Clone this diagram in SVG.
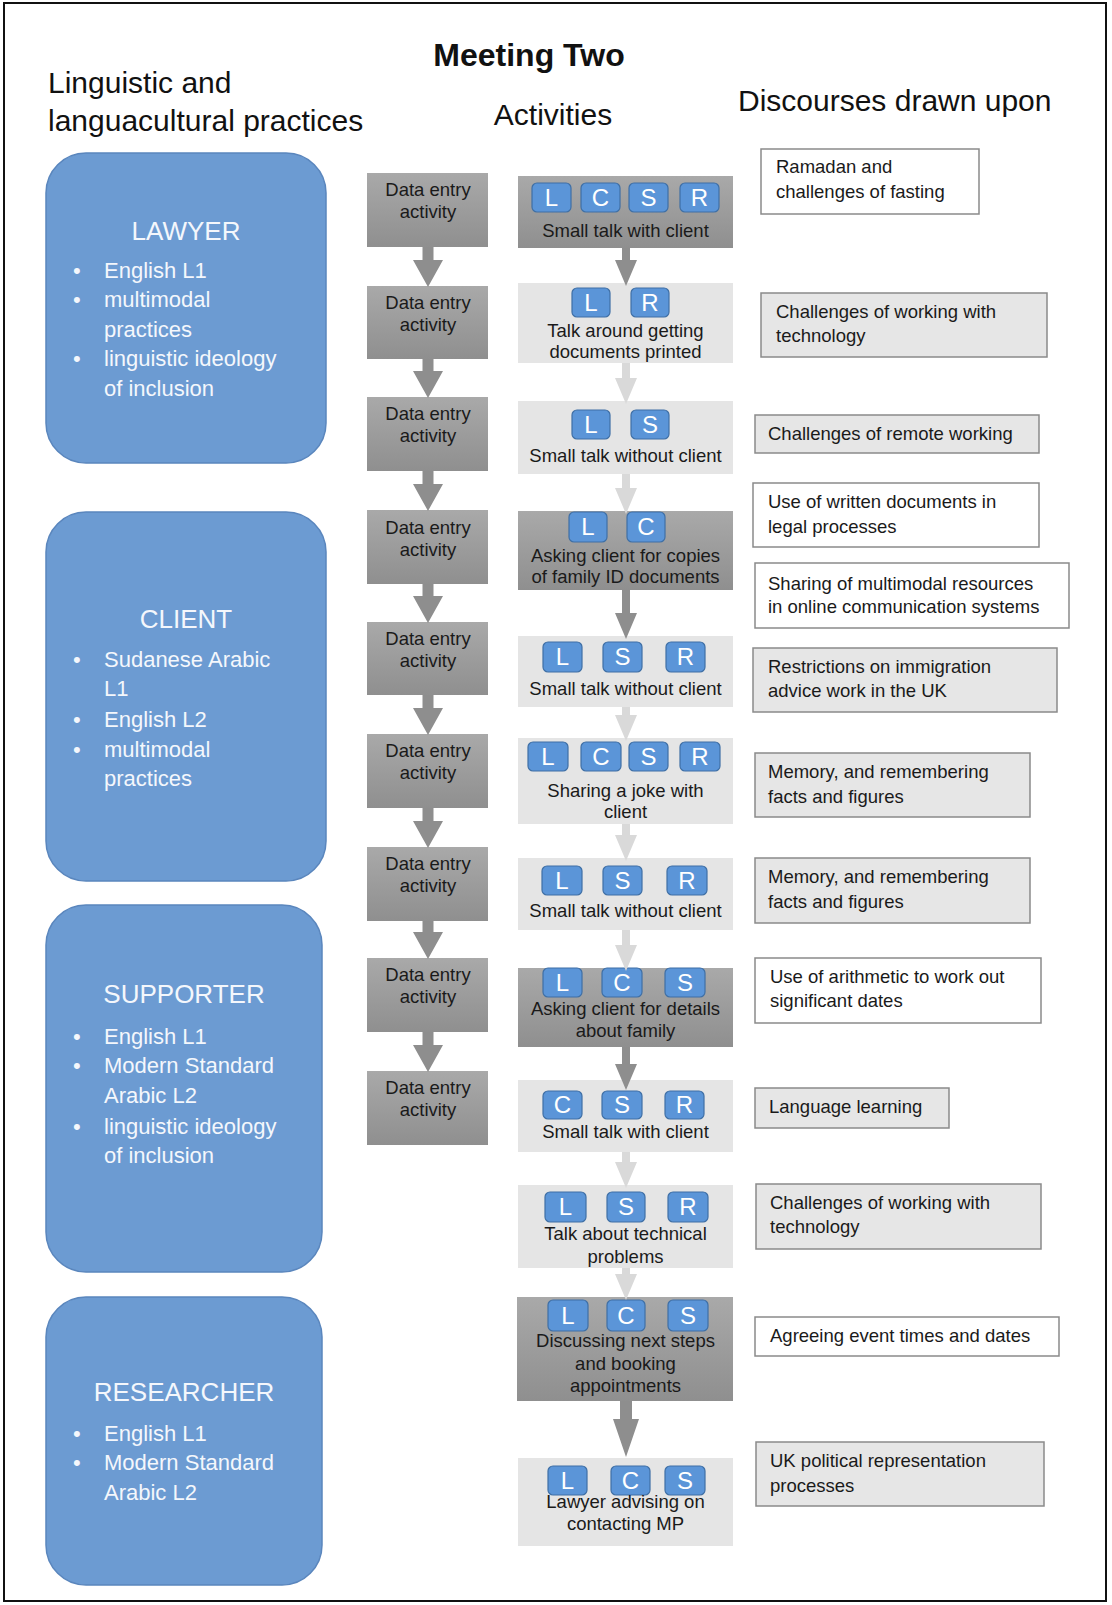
<svg xmlns="http://www.w3.org/2000/svg" width="1112" height="1605" viewBox="0 0 1112 1605">
<defs>
<linearGradient id="darkg" x1="0" y1="0" x2="0" y2="1">
<stop offset="0" stop-color="#a9a9a9"/>
<stop offset="1" stop-color="#8f8f8f"/>
</linearGradient>
</defs>
<style>
text{font-family:"Liberation Sans",Arial,sans-serif;}
.hdr{font-size:30px;fill:#111;}
.ttl{font-size:32px;font-weight:bold;fill:#111;}
.role{fill:#6c9bd2;stroke:#5a86bd;stroke-width:1.5;}
.rt{font-size:26px;fill:#f4f7fc;text-anchor:middle;}
.bt{font-size:22px;fill:#f4f7fc;}
.dark{fill:url(#darkg);}
.light{fill:#e5e5e5;}
.at{font-size:18.5px;fill:#1a1a1a;text-anchor:middle;}
.badge{fill:#5b95d8;stroke:#3f6fa5;stroke-width:1.2;}
.bl{font-size:24px;fill:#ffffff;text-anchor:middle;}
.dw{fill:#ffffff;stroke:#8a8a8a;stroke-width:1.5;}
.dg{fill:#e6e6e6;stroke:#8a8a8a;stroke-width:1.5;}
.dt{font-size:18.5px;fill:#1a1a1a;}
.ad{fill:#8e8e8e;}
.al{fill:#d9d9d9;}
</style>
<rect x="4" y="3" width="1102" height="1598" fill="#ffffff" stroke="#111" stroke-width="2"/>

<g id="headers">
<text class="ttl" x="529" y="66" text-anchor="middle">Meeting Two</text>
<text class="hdr" x="48" y="93">Linguistic and</text>
<text class="hdr" x="48" y="131">languacultural practices</text>
<text class="hdr" x="553" y="125" text-anchor="middle">Activities</text>
<text class="hdr" x="738" y="111">Discourses drawn upon</text>
</g>

<g id="role-lawyer">
<rect class="role" x="46" y="153" width="280" height="310" rx="40"/>
<text class="rt" x="186" y="240">LAWYER</text>
<text class="bt" x="73" y="278">•</text><text class="bt" x="104" y="278">English L1</text>
<text class="bt" x="73" y="307">•</text><text class="bt" x="104" y="307">multimodal</text>
<text class="bt" x="104" y="337">practices</text>
<text class="bt" x="73" y="366">•</text><text class="bt" x="104" y="366">linguistic ideology</text>
<text class="bt" x="104" y="396">of inclusion</text>
</g>
<g id="role-client">
<rect class="role" x="46" y="512" width="280" height="369" rx="40"/>
<text class="rt" x="186" y="628">CLIENT</text>
<text class="bt" x="73" y="667">•</text><text class="bt" x="104" y="667">Sudanese Arabic</text>
<text class="bt" x="104" y="696">L1</text>
<text class="bt" x="73" y="727">•</text><text class="bt" x="104" y="727">English L2</text>
<text class="bt" x="73" y="757">•</text><text class="bt" x="104" y="757">multimodal</text>
<text class="bt" x="104" y="786">practices</text>
</g>
<g id="role-supporter">
<rect class="role" x="46" y="905" width="276" height="367" rx="40"/>
<text class="rt" x="184" y="1003">SUPPORTER</text>
<text class="bt" x="73" y="1044">•</text><text class="bt" x="104" y="1044">English L1</text>
<text class="bt" x="73" y="1073">•</text><text class="bt" x="104" y="1073">Modern Standard</text>
<text class="bt" x="104" y="1103">Arabic L2</text>
<text class="bt" x="73" y="1134">•</text><text class="bt" x="104" y="1134">linguistic ideology</text>
<text class="bt" x="104" y="1163">of inclusion</text>
</g>
<g id="role-researcher">
<rect class="role" x="46" y="1297" width="276" height="288" rx="40"/>
<text class="rt" x="184" y="1401">RESEARCHER</text>
<text class="bt" x="73" y="1441">•</text><text class="bt" x="104" y="1441">English L1</text>
<text class="bt" x="73" y="1470">•</text><text class="bt" x="104" y="1470">Modern Standard</text>
<text class="bt" x="104" y="1500">Arabic L2</text>
</g>

<g id="data-1"><rect class="dark" x="367" y="173" width="121" height="74"/><text class="at" x="428" y="196">Data entry</text><text class="at" x="428" y="218">activity</text></g>
<g id="data-2"><rect class="dark" x="367" y="286" width="121" height="73"/><text class="at" x="428" y="309">Data entry</text><text class="at" x="428" y="331">activity</text></g>
<g id="data-3"><rect class="dark" x="367" y="397" width="121" height="74"/><text class="at" x="428" y="420">Data entry</text><text class="at" x="428" y="442">activity</text></g>
<g id="data-4"><rect class="dark" x="367" y="510" width="121" height="74"/><text class="at" x="428" y="534">Data entry</text><text class="at" x="428" y="556">activity</text></g>
<g id="data-5"><rect class="dark" x="367" y="622" width="121" height="73"/><text class="at" x="428" y="645">Data entry</text><text class="at" x="428" y="667">activity</text></g>
<g id="data-6"><rect class="dark" x="367" y="734" width="121" height="74"/><text class="at" x="428" y="757">Data entry</text><text class="at" x="428" y="779">activity</text></g>
<g id="data-7"><rect class="dark" x="367" y="847" width="121" height="74"/><text class="at" x="428" y="870">Data entry</text><text class="at" x="428" y="892">activity</text></g>
<g id="data-8"><rect class="dark" x="367" y="958" width="121" height="74"/><text class="at" x="428" y="981">Data entry</text><text class="at" x="428" y="1003">activity</text></g>
<g id="data-9"><rect class="dark" x="367" y="1071" width="121" height="74"/><text class="at" x="428" y="1094">Data entry</text><text class="at" x="428" y="1116">activity</text></g>

<g id="act-1">
<rect class="dark" x="518" y="176" width="215" height="72"/>
<rect class="badge" x="532" y="183" width="39" height="29" rx="5"/><text class="bl" x="551.5" y="206">L</text>
<rect class="badge" x="581" y="183" width="39" height="29" rx="5"/><text class="bl" x="600.5" y="206">C</text>
<rect class="badge" x="629" y="183" width="39" height="29" rx="5"/><text class="bl" x="648.5" y="206">S</text>
<rect class="badge" x="680" y="183" width="39" height="29" rx="5"/><text class="bl" x="699.5" y="206">R</text>
<text class="at" x="625.5" y="237">Small talk with client</text>
</g>
<g id="act-2">
<rect class="light" x="518" y="283" width="215" height="80"/>
<rect class="badge" x="572" y="288" width="38" height="29" rx="5"/><text class="bl" x="591" y="311">L</text>
<rect class="badge" x="631" y="288" width="38" height="29" rx="5"/><text class="bl" x="650" y="311">R</text>
<text class="at" x="625.5" y="337">Talk around getting</text>
<text class="at" x="625.5" y="358">documents printed</text>
</g>
<g id="act-3">
<rect class="light" x="518" y="401" width="215" height="73"/>
<rect class="badge" x="572" y="410" width="38" height="29" rx="5"/><text class="bl" x="591" y="433">L</text>
<rect class="badge" x="631" y="410" width="38" height="29" rx="5"/><text class="bl" x="650" y="433">S</text>
<text class="at" x="625.5" y="462">Small talk without client</text>
</g>
<g id="act-4">
<rect class="dark" x="518" y="511" width="215" height="79"/>
<rect class="badge" x="569" y="512" width="38" height="30" rx="5"/><text class="bl" x="588" y="535">L</text>
<rect class="badge" x="627" y="512" width="38" height="30" rx="5"/><text class="bl" x="646" y="535">C</text>
<text class="at" x="625.5" y="562">Asking client for copies</text>
<text class="at" x="625.5" y="583">of family ID documents</text>
</g>
<g id="act-5">
<rect class="light" x="518" y="636" width="215" height="71"/>
<rect class="badge" x="543" y="642" width="39" height="30" rx="5"/><text class="bl" x="562.5" y="665">L</text>
<rect class="badge" x="603" y="642" width="39" height="30" rx="5"/><text class="bl" x="622.5" y="665">S</text>
<rect class="badge" x="666" y="642" width="39" height="30" rx="5"/><text class="bl" x="685.5" y="665">R</text>
<text class="at" x="625.5" y="695">Small talk without client</text>
</g>
<g id="act-6">
<rect class="light" x="518" y="738" width="215" height="86"/>
<rect class="badge" x="528" y="742" width="40" height="29" rx="5"/><text class="bl" x="548" y="765">L</text>
<rect class="badge" x="581" y="742" width="40" height="29" rx="5"/><text class="bl" x="601" y="765">C</text>
<rect class="badge" x="629" y="742" width="39" height="29" rx="5"/><text class="bl" x="648.5" y="765">S</text>
<rect class="badge" x="680" y="742" width="40" height="29" rx="5"/><text class="bl" x="700" y="765">R</text>
<text class="at" x="625.5" y="797">Sharing a joke with</text>
<text class="at" x="625.5" y="818">client</text>
</g>
<g id="act-7">
<rect class="light" x="518" y="858" width="215" height="72"/>
<rect class="badge" x="542" y="866" width="40" height="29" rx="5"/><text class="bl" x="562" y="889">L</text>
<rect class="badge" x="603" y="866" width="39" height="29" rx="5"/><text class="bl" x="622.5" y="889">S</text>
<rect class="badge" x="667" y="866" width="40" height="29" rx="5"/><text class="bl" x="687" y="889">R</text>
<text class="at" x="625.5" y="917">Small talk without client</text>
</g>
<g id="act-8">
<rect class="dark" x="518" y="968" width="215" height="79"/>
<rect class="badge" x="543" y="968" width="39" height="29" rx="5"/><text class="bl" x="562.5" y="991">L</text>
<rect class="badge" x="602" y="968" width="40" height="29" rx="5"/><text class="bl" x="622" y="991">C</text>
<rect class="badge" x="665" y="968" width="40" height="29" rx="5"/><text class="bl" x="685" y="991">S</text>
<text class="at" x="625.5" y="1015">Asking client for details</text>
<text class="at" x="625.5" y="1037">about family</text>
</g>
<g id="act-9">
<rect class="light" x="518" y="1080" width="215" height="72"/>
<rect class="badge" x="543" y="1091" width="39" height="28" rx="5"/><text class="bl" x="562.5" y="1113">C</text>
<rect class="badge" x="602" y="1091" width="40" height="28" rx="5"/><text class="bl" x="622" y="1113">S</text>
<rect class="badge" x="665" y="1091" width="39" height="28" rx="5"/><text class="bl" x="684.5" y="1113">R</text>
<text class="at" x="625.5" y="1138">Small talk with client</text>
</g>
<g id="act-10">
<rect class="light" x="518" y="1185" width="215" height="83"/>
<rect class="badge" x="545" y="1192" width="41" height="30" rx="5"/><text class="bl" x="565.5" y="1215">L</text>
<rect class="badge" x="607" y="1192" width="38" height="30" rx="5"/><text class="bl" x="626" y="1215">S</text>
<rect class="badge" x="668" y="1192" width="40" height="30" rx="5"/><text class="bl" x="688" y="1215">R</text>
<text class="at" x="625.5" y="1240">Talk about technical</text>
<text class="at" x="625.5" y="1263">problems</text>
</g>
<g id="act-11">
<rect class="dark" x="517" y="1297" width="216" height="104"/>
<rect class="badge" x="548" y="1300" width="40" height="31" rx="5"/><text class="bl" x="568" y="1324">L</text>
<rect class="badge" x="607" y="1300" width="38" height="31" rx="5"/><text class="bl" x="626" y="1324">C</text>
<rect class="badge" x="668" y="1300" width="40" height="31" rx="5"/><text class="bl" x="688" y="1324">S</text>
<text class="at" x="625.5" y="1347">Discussing next steps</text>
<text class="at" x="625.5" y="1370">and booking</text>
<text class="at" x="625.5" y="1392">appointments</text>
</g>
<g id="act-12">
<rect class="light" x="518" y="1458" width="215" height="88"/>
<rect class="badge" x="548" y="1466" width="39" height="29" rx="5"/><text class="bl" x="567.5" y="1489">L</text>
<rect class="badge" x="611" y="1466" width="39" height="29" rx="5"/><text class="bl" x="630.5" y="1489">C</text>
<rect class="badge" x="665" y="1466" width="40" height="29" rx="5"/><text class="bl" x="685" y="1489">S</text>
<text class="at" x="625.5" y="1508">Lawyer advising on</text>
<text class="at" x="625.5" y="1530">contacting MP</text>
</g>

<g id="disc-1"><rect class="dw" x="761" y="149" width="218" height="65"/><text class="dt" x="776" y="173">Ramadan and</text><text class="dt" x="776" y="198">challenges of fasting</text></g>
<g id="disc-2"><rect class="dg" x="761" y="293" width="286" height="64"/><text class="dt" x="776" y="318">Challenges of working with</text><text class="dt" x="776" y="342">technology</text></g>
<g id="disc-3"><rect class="dg" x="755" y="415" width="284" height="38"/><text class="dt" x="768" y="440">Challenges of remote working</text></g>
<g id="disc-4"><rect class="dw" x="753" y="483" width="286" height="64"/><text class="dt" x="768" y="508">Use of written documents in</text><text class="dt" x="768" y="533">legal processes</text></g>
<g id="disc-5"><rect class="dw" x="755" y="563" width="314" height="65"/><text class="dt" x="768" y="590">Sharing of multimodal resources</text><text class="dt" x="768" y="613">in online communication systems</text></g>
<g id="disc-6"><rect class="dg" x="753" y="648" width="304" height="64"/><text class="dt" x="768" y="673">Restrictions on immigration</text><text class="dt" x="768" y="697">advice work in the UK</text></g>
<g id="disc-7"><rect class="dg" x="755" y="753" width="275" height="64"/><text class="dt" x="768" y="778">Memory, and remembering</text><text class="dt" x="768" y="803">facts and figures</text></g>
<g id="disc-8"><rect class="dg" x="755" y="858" width="275" height="65"/><text class="dt" x="768" y="883">Memory, and remembering</text><text class="dt" x="768" y="908">facts and figures</text></g>
<g id="disc-9"><rect class="dw" x="755" y="958" width="286" height="65"/><text class="dt" x="770" y="983">Use of arithmetic to work out</text><text class="dt" x="770" y="1007">significant dates</text></g>
<g id="disc-10"><rect class="dg" x="755" y="1088" width="194" height="40"/><text class="dt" x="769" y="1113">Language learning</text></g>
<g id="disc-11"><rect class="dg" x="756" y="1184" width="285" height="65"/><text class="dt" x="770" y="1209">Challenges of working with</text><text class="dt" x="770" y="1233">technology</text></g>
<g id="disc-12"><rect class="dw" x="755" y="1317" width="304" height="39"/><text class="dt" x="770" y="1342">Agreeing event times and dates</text></g>
<g id="disc-13"><rect class="dg" x="756" y="1442" width="288" height="64"/><text class="dt" x="770" y="1467">UK political representation</text><text class="dt" x="770" y="1492">processes</text></g>

<g id="connectors">
<polygon class="ad" points="422.5,247 433.5,247 433.5,260 443,260 428,287 413,260 422.5,260"/>
<polygon class="ad" points="422.5,359 433.5,359 433.5,371 443,371 428,398 413,371 422.5,371"/>
<polygon class="ad" points="422.5,471 433.5,471 433.5,484 443,484 428,511 413,484 422.5,484"/>
<polygon class="ad" points="422.5,584 433.5,584 433.5,596 443,596 428,623 413,596 422.5,596"/>
<polygon class="ad" points="422.5,695 433.5,695 433.5,708 443,708 428,735 413,708 422.5,708"/>
<polygon class="ad" points="422.5,808 433.5,808 433.5,821 443,821 428,848 413,821 422.5,821"/>
<polygon class="ad" points="422.5,921 433.5,921 433.5,932 443,932 428,959 413,932 422.5,932"/>
<polygon class="ad" points="422.5,1032 433.5,1032 433.5,1045 443,1045 428,1072 413,1045 422.5,1045"/>

<polygon class="ad" points="622,248 630,248 630,260 637,260 626,286 615,260 622,260"/>
<polygon class="al" points="622,363 630,363 630,378 637,378 626,404 615,378 622,378"/>
<polygon class="al" points="622,474 630,474 630,488 637,488 626,514 615,488 622,488"/>
<polygon class="ad" points="622,590 630,590 630,613 637,613 626,639 615,613 622,613"/>
<polygon class="al" points="622,707 630,707 630,715 637,715 626,741 615,715 622,715"/>
<polygon class="al" points="622,824 630,824 630,835 637,835 626,861 615,835 622,835"/>
<polygon class="al" points="622,930 630,930 630,945 637,945 626,971 615,945 622,945"/>
<polygon class="ad" points="622,1047 630,1047 630,1064 637,1064 626,1090 615,1064 622,1064"/>
<polygon class="al" points="622,1152 630,1152 630,1162 637,1162 626,1188 615,1162 622,1162"/>
<polygon class="al" points="622,1268 630,1268 630,1274 637,1274 626,1300 615,1274 622,1274"/>
<polygon class="ad" points="620,1401 632,1401 632,1419 639,1419 626,1457 613,1419 620,1419"/>
</g>
</svg>
